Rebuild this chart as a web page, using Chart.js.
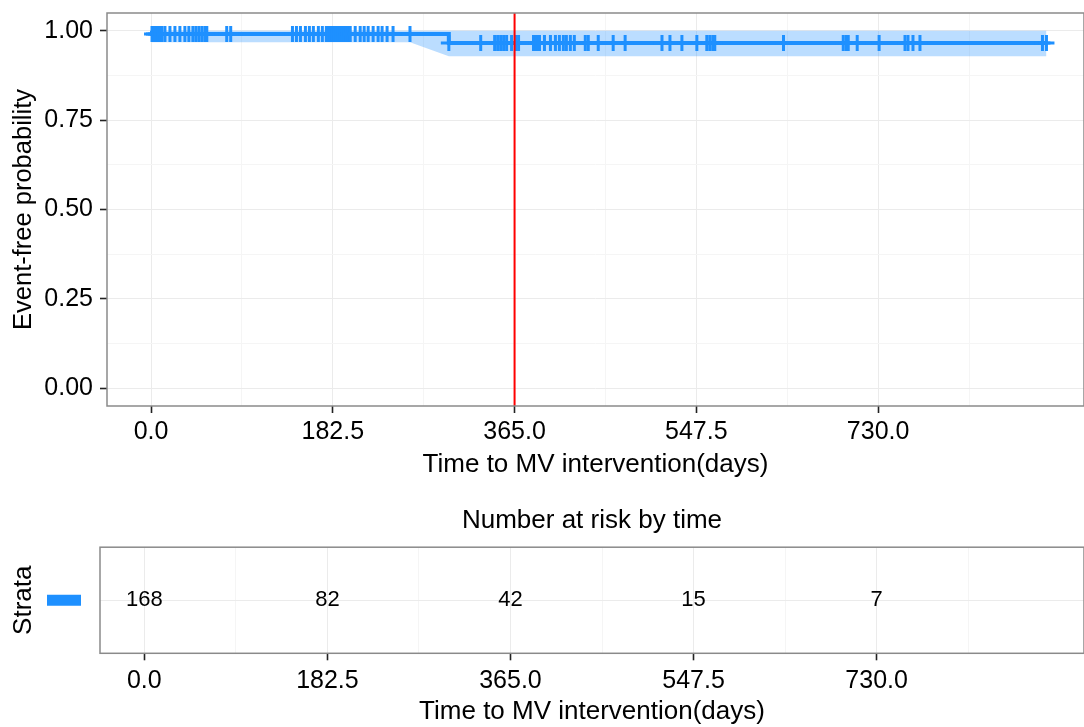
<!DOCTYPE html>
<html>
<head>
<meta charset="utf-8">
<script src="https://cdn.jsdelivr.net/npm/chart.js"></script>
<style>
  html, body { margin: 0; padding: 0; background: #fff; }
  #wrap { position: relative; width: 1084px; height: 727px; overflow: hidden; }
  canvas { position: absolute; left: 0; }
</style>
</head>
<body>
<div id="wrap">
  <canvas id="km" width="1084" height="490" style="top:0"></canvas>
  <canvas id="risk" width="1084" height="237" style="top:490px"></canvas>
</div>
<script>
// survival curve (step function)
const survTimes = [0, 1, 299, 899];
const survProbs = [1.0, 0.991, 0.966, 0.966];

// confidence band
const bandTimes = [0, 1, 260, 299, 899];
const bandLower = [1.0, 0.968, 0.968, 0.929, 0.929];
const bandUpper = [1.0, 1.0, 1.0, 1.0, 1.0];

// censored observations (days)
const censorTimes = [1, 3, 5, 7, 9, 11, 14, 19, 24, 29, 34, 38, 42, 45, 48, 51, 54, 56,
  76, 80, 142, 146, 150, 155, 159, 163, 168, 172, 176, 178, 180, 182, 184, 186, 188,
  190, 192, 194, 196, 198, 200, 205, 210, 214, 218, 223, 228, 232, 237, 243, 260,
  299, 331, 345, 348, 351, 354, 357, 362, 366, 369, 384, 387, 390, 395, 401, 406,
  410, 414, 417, 421, 425, 436, 439, 449, 464, 476, 513, 521, 533, 548, 558, 561,
  564, 566, 635, 695, 698, 700, 709, 731, 757, 760, 765, 772, 895, 899];

// reference line
const markerDay = 365;

// axes
const xBreaks = [0, 182.5, 365, 547.5, 730];
const xBreakLabels = ['0.0', '182.5', '365.0', '547.5', '730.0'];
const yBreaks = [0, 0.25, 0.5, 0.75, 1];
const yBreakLabels = ['0.00', '0.25', '0.50', '0.75', '1.00'];
const xMin = -44.2, xMax = 936.7;
const yMin = -0.05, yMax = 1.05;

// number at risk table
const riskTimes = [0, 182.5, 365, 547.5, 730];
const riskCounts = [168, 82, 42, 15, 7];

const BLUE = '#1E90FF';
const FONT = "'Liberation Sans', Arial, sans-serif";

Chart.defaults.font.family = FONT;
Chart.defaults.color = '#000';
Chart.defaults.animation = false;

function survAt(t) {
    let p = survProbs[0];
    for (let i = 0; i < survTimes.length; i++) {
        if (survTimes[i] <= t) p = survProbs[i];
    }
    return p;
}

// major + minor breaks (ggplot style grid)
function withMinor(breaks, lo, hi) {
    const step = breaks[1] - breaks[0];
    const out = [];
    for (let v = breaks[0] - step / 2; v <= breaks[breaks.length - 1] + step / 2 + 1e-9; v += step / 2) {
        if (v >= lo && v <= hi) out.push(v);
    }
    return out;
}
const isMajor = (list, v) => list.some(b => Math.abs(b - v) < 1e-9);

function xAxis(titlePad, tickPad, height) {
    return {
        type: 'linear',
        min: xMin,
        max: xMax,
        afterBuildTicks: s => { s.ticks = withMinor(xBreaks, xMin, xMax).map(v => ({ value: v })); },
        afterFit: s => { s.height = height; s.paddingLeft = 0; s.paddingRight = 0; },
        ticks: {
            autoSkip: false,
            maxRotation: 0,
            padding: tickPad,
            font: { size: 25 },
            color: '#000',
            callback: v => { const i = xBreaks.findIndex(b => Math.abs(b - v) < 1e-9); return i >= 0 ? xBreakLabels[i] : ''; }
        },
        grid: {
            color: c => c.tick && isMajor(xBreaks, c.tick.value) ? '#ebebeb' : '#f5f5f5',
            tickColor: c => c.tick && isMajor(xBreaks, c.tick.value) ? '#222' : 'rgba(0,0,0,0)',
            tickLength: 7,
            tickWidth: 1.6,
            lineWidth: 1
        },
        border: { display: false },
        title: {
            display: true,
            text: 'Time to MV intervention(days)',
            font: { size: 26 },
            color: '#000',
            padding: { top: 0, bottom: titlePad }
        }
    };
}

const frame = {
    id: 'frame',
    afterDraw(chart) {
        const a = chart.chartArea, ctx = chart.ctx;
        ctx.save();
        ctx.strokeStyle = '#8a8a8a';
        ctx.lineWidth = 1.5;
        ctx.strokeRect(a.left, a.top, a.right - a.left, a.bottom - a.top);
        ctx.restore();
    }
};

// ---- Kaplan-Meier panel ----
new Chart(document.getElementById('km'), {
    type: 'line',
    data: {
        datasets: [
            {
                label: 'ref',
                data: [{ x: markerDay, y: yMin }, { x: markerDay, y: yMax }],
                borderColor: '#ff0000',
                borderWidth: 2,
                pointRadius: 0,
                order: 0
            },
            {
                label: 'censor',
                data: censorTimes.map(t => ({ x: t, y: survAt(t) })),
                showLine: false,
                pointStyle: 'cross',
                pointRadius: 8,
                pointBorderWidth: 3,
                borderColor: BLUE,
                backgroundColor: BLUE,
                order: 1
            },
            {
                label: 'survival',
                data: survTimes.map((t, i) => ({ x: t, y: survProbs[i] })),
                stepped: true,
                borderColor: BLUE,
                borderWidth: 4,
                pointRadius: 0,
                order: 2
            },
            {
                label: 'upper',
                data: bandTimes.map((t, i) => ({ x: t, y: bandUpper[i] })),
                borderWidth: 0,
                pointRadius: 0,
                fill: false,
                order: 3
            },
            {
                label: 'lower',
                data: bandTimes.map((t, i) => ({ x: t, y: bandLower[i] })),
                borderWidth: 0,
                pointRadius: 0,
                fill: '-1',
                backgroundColor: 'rgba(30,144,255,0.3)',
                order: 4
            }
        ]
    },
    options: {
        responsive: false,
        layout: { padding: { top: 13, right: 0, left: 0, bottom: 0 }, autoPadding: false },
        plugins: { legend: { display: false }, tooltip: { enabled: false } },
        scales: {
            x: xAxis(10, 4, 84),
            y: {
                type: 'linear',
                min: yMin,
                max: yMax,
                afterBuildTicks: s => { s.ticks = withMinor(yBreaks, yMin, yMax).map(v => ({ value: v })); },
                afterFit: s => { s.width = 107; s.paddingTop = 0; s.paddingBottom = 0; },
                ticks: {
                    padding: 7,
                    font: { size: 25 },
                    color: '#000',
                    callback: v => { const i = yBreaks.findIndex(b => Math.abs(b - v) < 1e-9); return i >= 0 ? yBreakLabels[i] : ''; }
                },
                grid: {
                    color: c => c.tick && isMajor(yBreaks, c.tick.value) ? '#ebebeb' : '#f5f5f5',
                    tickColor: c => c.tick && isMajor(yBreaks, c.tick.value) ? '#222' : 'rgba(0,0,0,0)',
                    tickLength: 7,
                    tickWidth: 1.6
                },
                border: { display: false },
                title: {
                    display: true,
                    text: 'Event-free probability',
                    font: { size: 25.5 },
                    color: '#000',
                    padding: { top: 9, bottom: 0 }
                }
            }
        }
    },
    plugins: [frame]
});

// ---- number at risk table ----
const riskText = {
    id: 'riskText',
    afterDatasetsDraw(chart) {
        const ctx = chart.ctx;
        const meta = chart.getDatasetMeta(0);
        ctx.save();
        ctx.font = '22px ' + FONT;
        ctx.fillStyle = '#000';
        ctx.textAlign = 'center';
        ctx.textBaseline = 'middle';
        meta.data.forEach((pt, i) => ctx.fillText(String(riskCounts[i]), pt.x, pt.y));
        // strata key
        const yMid = chart.scales.y.getPixelForValue(0.5);
        ctx.fillStyle = BLUE;
        ctx.fillRect(47, yMid - 5.5, 34, 11);
        ctx.restore();
    }
};

new Chart(document.getElementById('risk'), {
    type: 'scatter',
    data: {
        datasets: [{
            data: riskTimes.map(t => ({ x: t, y: 0.5 })),
            pointRadius: 0
        }]
    },
    options: {
        responsive: false,
        layout: { padding: 0, autoPadding: false },
        plugins: {
            legend: { display: false },
            tooltip: { enabled: false },
            title: {
                display: true,
                text: 'Number at risk by time',
                fullSize: false,
                font: { size: 26, weight: 'normal' },
                color: '#000',
                padding: { top: 15, bottom: 11 }
            }
        },
        scales: {
            x: xAxis(0, 6, 73.7),
            y: {
                type: 'linear',
                min: 0,
                max: 1,
                afterBuildTicks: s => { s.ticks = [{ value: 0.5 }]; },
                afterFit: s => { s.width = 100; s.paddingTop = 0; s.paddingBottom = 0; },
                ticks: { callback: () => '' },
                grid: { color: '#ebebeb', drawTicks: false },
                border: { display: false },
                title: {
                    display: true,
                    text: 'Strata',
                    font: { size: 26 },
                    color: '#000',
                    padding: { top: 8, bottom: 0 }
                }
            }
        }
    },
    plugins: [frame, riskText]
});
</script>
</body>
</html>
